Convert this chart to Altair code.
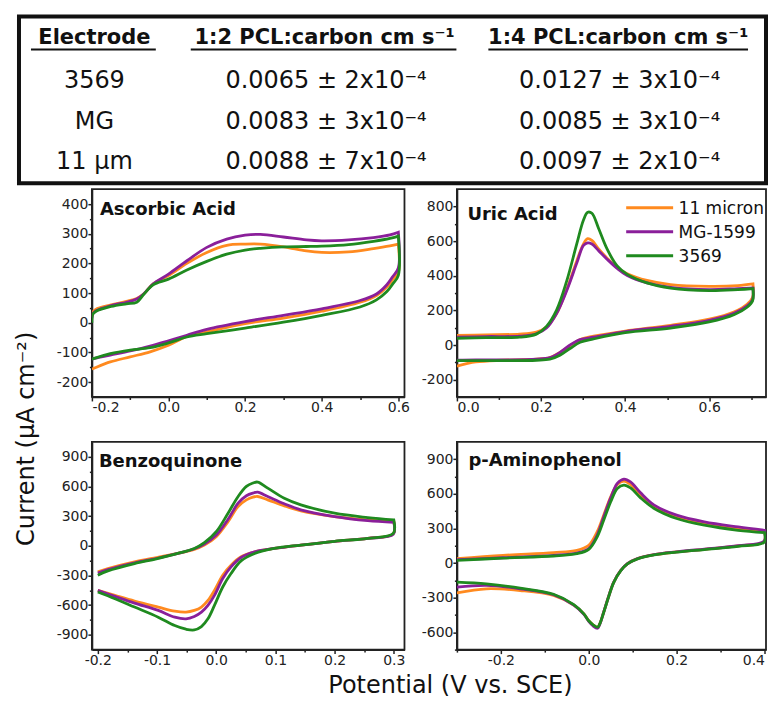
import altair as alt
import pandas as pd

FONT = "DejaVu Sans"
SERIES = ["11 micron", "MG-1599", "3569"]
COLORS = ["#FF8A1F", "#8A1F9A", "#1F8A1F"]

# ---------------- table ----------------
TABLE_HEAD = ["Electrode", "1:2 PCL:carbon  cm s\u207b\u00b9", "1:4 PCL:carbon cm s\u207b\u00b9"]
ELECTRODES = ["3569", "MG", "11 \u00b5m"]
K_12 = ["0.0065 \u00b1 2x10\u207b\u2074", "0.0083 \u00b1 3x10\u207b\u2074", "0.0088 \u00b1 7x10\u207b\u2074"]
K_14 = ["0.0127 \u00b1 3x10\u207b\u2074", "0.0085 \u00b1 3x10\u207b\u2074", "0.0097 \u00b1 2x10\u207b\u2074"]

# ---------------- Ascorbic acid ----------------
AA_E_FWD = [-0.2, -0.198, -0.19, -0.15, -0.11, -0.083, -0.065, -0.04, 0.0, 0.048, 0.1, 0.152,
            0.2, 0.24, 0.3, 0.36, 0.4, 0.47, 0.535, 0.578, 0.6]
AA_FWD = {
    "11 micron": [20, 35, 45, 60, 72, 82, 97, 131, 159, 200, 237, 261, 265, 265, 256, 242, 237, 239, 250, 259, 265],
    "MG-1599":   [15, 30, 40, 58, 69, 80, 97, 131, 164, 209, 254, 282, 295, 298, 289, 279, 276, 279, 287, 296, 305],
    "3569":      [0, 28, 38, 55, 64, 69, 95, 128, 147, 178, 207, 231, 245, 251, 256, 257, 258, 263, 274, 284, 292],
}
AA_E_REV = [0.6, 0.6, 0.585, 0.57, 0.543, 0.5, 0.4, 0.3, 0.2, 0.1, 0.048, 0.0, -0.048, -0.1, -0.152, -0.196, -0.2]
AA_REV = {
    "11 micron": [265, 170, 145, 120, 92, 69, 39, 16, -3, -31, -46, -76, -98, -115, -132, -154, -156],
    "MG-1599":   [305, 185, 155, 128, 97, 75, 47, 25, 4, -22, -42, -61, -79, -95, -109, -121, -123],
    "3569":      [292, 160, 130, 105, 77, 53, 25, 2, -18, -37, -48, -68, -84, -92, -104, -121, -123],
}

# ---------------- Uric acid ----------------
UA_E_FWD = [0.0, 0.069, 0.149, 0.189, 0.213, 0.237, 0.261, 0.285, 0.301, 0.311, 0.321, 0.337,
            0.357, 0.381, 0.405, 0.452, 0.508, 0.6, 0.668, 0.704]
UA_FWD = {
    "11 micron": [55, 59, 63, 75, 104, 182, 320, 486, 584, 614, 604, 555, 502, 447, 412, 373, 349, 339, 343, 353],
    "MG-1599":   [45, 49, 51, 65, 98, 182, 314, 473, 575, 590, 584, 545, 496, 443, 402, 359, 333, 320, 326, 329],
    "3569":      [39, 43, 45, 63, 108, 202, 369, 584, 722, 767, 761, 673, 555, 457, 408, 359, 329, 314, 320, 326],
}
UA_E_REV = [0.704, 0.703, 0.69, 0.66, 0.6, 0.508, 0.4, 0.325, 0.293, 0.269, 0.245, 0.221, 0.189, 0.109, 0.045, 0.0]
UA_REV = {
    "11 micron": [353, 275, 235, 192, 149, 114, 80, 51, 31, -4, -43, -73, -82, -88, -98, -122],
    "MG-1599":   [329, 262, 226, 184, 143, 108, 78, 45, 31, 0, -43, -73, -82, -86, -86, -88],
    "3569":      [326, 255, 218, 176, 133, 98, 71, 35, 16, -20, -59, -82, -88, -90, -90, -90],
}

# ---------------- Benzoquinone ----------------
BQ_E_FWD = [-0.2, -0.183, -0.138, -0.101, -0.065, -0.037, -0.02, 0.0, 0.02, 0.037, 0.051, 0.062,
            0.07, 0.087, 0.115, 0.143, 0.2, 0.256, 0.3]
BQ_FWD = {
    "11 micron": [-264, -231, -163, -119, -78, -37, 7, 92, 244, 397, 464, 492, 498, 464, 403, 353, 295, 261, 244],
    "MG-1599":   [-275, -241, -173, -129, -78, -31, 17, 108, 268, 430, 505, 532, 542, 498, 424, 363, 295, 254, 237],
    "3569":      [-298, -254, -180, -132, -78, -27, 31, 142, 329, 498, 600, 634, 644, 583, 481, 414, 329, 285, 261],
}
BQ_E_REV = [0.3, 0.299, 0.256, 0.2, 0.143, 0.098, 0.065, 0.042, 0.025, 0.011, -0.003, -0.014, -0.025,
            -0.037, -0.051, -0.07, -0.098, -0.138, -0.171, -0.2]
BQ_REV = {
    "11 micron": [244, 120, 75, 45, 7, -27, -61, -112, -197, -298, -451, -553, -620, -654, -671, -661, -620, -559, -502, -451],
    "MG-1599":   [237, 115, 75, 45, 7, -27, -61, -119, -214, -332, -502, -603, -671, -715, -739, -722, -654, -580, -512, -451],
    "3569":      [261, 125, 75, 45, 7, -27, -78, -153, -281, -417, -603, -739, -817, -851, -844, -807, -722, -620, -536, -468],
}

# ---------------- p-Aminophenol ----------------
PAP_E_FWD = [-0.3, -0.195, -0.08, -0.027, 0.0, 0.019, 0.034, 0.05, 0.065, 0.08, 0.095, 0.118,
             0.149, 0.2, 0.263, 0.34, 0.4]
PAP_FWD = {
    "11 micron": [38, 67, 90, 110, 154, 270, 415, 574, 681, 710, 681, 588, 487, 400, 342, 299, 275],
    "MG-1599":   [29, 46, 67, 87, 125, 241, 400, 565, 690, 728, 704, 609, 502, 415, 357, 313, 284],
    "3569":      [23, 43, 61, 81, 119, 226, 371, 531, 646, 676, 652, 565, 473, 386, 328, 284, 264],
}
PAP_E_REV = [0.4, 0.399, 0.34, 0.263, 0.2, 0.149, 0.111, 0.088, 0.073, 0.057, 0.046, 0.034, 0.025,
             0.02, 0.01, 0.0, -0.011, -0.034, -0.08, -0.156, -0.233, -0.3]
PAP_REV = {
    "11 micron": [275, 186, 148, 119, 96, 72, 38, -6, -64, -165, -281, -426, -528, -555, -535, -500, -441, -365, -281, -238, -223, -258],
    "MG-1599":   [284, 190, 150, 121, 97, 73, 38, -6, -64, -165, -281, -426, -532, -565, -545, -505, -445, -365, -275, -223, -194, -209],
    "3569":      [264, 180, 145, 117, 94, 70, 36, -8, -66, -167, -283, -428, -528, -555, -535, -500, -441, -360, -270, -217, -180, -165],
}


def cv_frame(e_fwd, fwd, e_rev, rev):
    rows = []
    for s in SERIES:
        es = list(e_fwd) + list(e_rev)
        vs = list(fwd[s]) + list(rev[s])
        for k, (e, v) in enumerate(zip(es, vs)):
            rows.append({"series": s, "E": e, "I": v, "k": k})
    return pd.DataFrame(rows)


ONE = pd.DataFrame({"a": [0]})


def make_axis(vals, major, fmt, right_after=None):
    test = f"abs(datum.value/{major} - round(datum.value/{major})) < 1e-6"
    kw = {}
    if right_after is not None:
        kw["labelAlign"] = {"condition": {"test": f"datum.value > {right_after}", "value": "right"}, "value": "center"}
    return alt.Axis(
        values=vals, title=None, grid=False,
        labelExpr=f"{test} ? replace(format(datum.value, '{fmt}'), '\u2212', '-') : ''",
        tickSize={"condition": {"test": test, "value": 4}, "value": 2.5},
        **kw,
    )


def panel(df, xdom, ydom, xvals, xmajor, yvals, ymajor, title, tx, ty, right_after=None):
    lines = alt.Chart(df).mark_line(strokeWidth=2.8, interpolate="catmull-rom", clip=True).encode(
        x=alt.X("E:Q", scale=alt.Scale(domain=xdom, nice=False, zero=False),
                axis=make_axis(xvals, xmajor, ".1f", right_after)),
        y=alt.Y("I:Q", scale=alt.Scale(domain=ydom, nice=False, zero=False), axis=make_axis(yvals, ymajor, "d")),
        color=alt.Color("series:N", scale=alt.Scale(domain=SERIES, range=COLORS), legend=None),
        order="k:Q",
    )
    ttl = alt.Chart(ONE).mark_text(
        text=title, font=FONT, fontSize=18, fontWeight="bold", align="left", baseline="alphabetic", color="#111"
    ).encode(x=alt.value(tx), y=alt.value(ty))
    return lines, ttl


W1, W2, H = 313, 309.5, 208

# -------- panel 1 + table + y title --------
aa = cv_frame(AA_E_FWD, AA_FWD, AA_E_REV, AA_REV)
l1, t1 = panel(aa, [-0.2, 0.616], [-250, 450], [round(-0.2 + 0.1 * i, 2) for i in range(9)], 0.2,
               list(range(-200, 401, 50)), 100, "Ascorbic Acid", 8, 26)

anchor_l = alt.Chart(ONE).mark_rect(opacity=0).encode(
    x=alt.value(-83), x2=alt.value(-82), y=alt.value(-180), y2=alt.value(-179))
anchor_r = alt.Chart(ONE).mark_rect(opacity=0).encode(
    x=alt.value(700), x2=alt.value(701), y=alt.value(0), y2=alt.value(1))
box = alt.Chart(ONE).mark_rect(filled=False, stroke="#111", strokeWidth=4).encode(
    x=alt.value(-73), x2=alt.value(675), y=alt.value(-173), y2=alt.value(-6))

table_layers = [anchor_l, anchor_r, box]
col_x = [2.5, 233, 527]
ul = [(-61, 64), (99, 365), (397, 657)]
for c in range(3):
    table_layers.append(alt.Chart(ONE).mark_text(
        text=TABLE_HEAD[c], font=FONT, fontSize=21, fontWeight="bold", align="center",
        baseline="alphabetic", color="#111").encode(x=alt.value(col_x[c]), y=alt.value(-145)))
    table_layers.append(alt.Chart(ONE).mark_rule(color="#111", strokeWidth=2).encode(
        x=alt.value(ul[c][0]), x2=alt.value(ul[c][1]), y=alt.value(-140)))
row_y = [-101, -60, -20]
for r in range(3):
    for c, txt in enumerate([ELECTRODES[r], K_12[r], K_14[r]]):
        table_layers.append(alt.Chart(ONE).mark_text(
            text=txt, font=FONT, fontSize=24, align="center", baseline="alphabetic", color="#111"
        ).encode(x=alt.value(col_x[c] + (0 if c == 0 else 1.5)), y=alt.value(row_y[r])))

ytitle = alt.Chart(ONE).mark_text(
    text="Current (\u03bcA cm\u207b\u00b2)", font=FONT, fontSize=24, angle=270, align="center",
    baseline="middle", color="#111").encode(x=alt.value(-65), y=alt.value(250))

p1 = alt.layer(*table_layers, ytitle, l1, t1).properties(width=W1, height=H)

# -------- panel 2 + legend --------
ua = cv_frame(UA_E_FWD, UA_FWD, UA_E_REV, UA_REV)
l2, t2 = panel(ua, [0, 0.735], [-300, 900], [round(0.1 * i, 2) for i in range(8)], 0.2,
               list(range(-200, 801, 100)), 200, "Uric Acid", 10.5, 31)
leg = []
for i, (s, col) in enumerate(zip(SERIES, COLORS)):
    yy = 18.5 + 24 * i
    leg.append(alt.Chart(ONE).mark_rule(color=col, strokeWidth=3).encode(
        x=alt.value(169.5), x2=alt.value(216.5), y=alt.value(yy)))
    leg.append(alt.Chart(ONE).mark_text(
        text=s, font=FONT, fontSize=17, align="left", baseline="middle", color="#111"
    ).encode(x=alt.value(222), y=alt.value(yy + 1)))
p2 = alt.layer(l2, t2, *leg).properties(width=W2, height=H)

# -------- panel 3 + x title --------
bq = cv_frame(BQ_E_FWD, BQ_FWD, BQ_E_REV, BQ_REV)
l3, t3 = panel(bq, [-0.21, 0.318], [-1050, 1050], [round(-0.2 + 0.05 * i, 3) for i in range(11)], 0.1,
               list(range(-900, 901, 150)), 300, "Benzoquinone", 7, 25)
xtitle = alt.Chart(ONE).mark_text(
    text="Potential (V vs. SCE)", font=FONT, fontSize=24, align="center", baseline="alphabetic",
    color="#111").encode(x=alt.value(359), y=alt.value(251))
p3 = alt.layer(l3, t3, xtitle).properties(width=W1, height=H)

# -------- panel 4 --------
pap = cv_frame(PAP_E_FWD, PAP_FWD, PAP_E_REV, PAP_REV)
l4, t4 = panel(pap, [-0.3, 0.4034], [-750, 1050], [round(-0.3 + 0.1 * i, 2) for i in range(8)], 0.2,
               list(range(-750, 901, 150)), 300, "p-Aminophenol", 11.5, 24, right_after=0.39)
p4 = alt.layer(l4, t4).properties(width=W2, height=H)

chart = alt.concat(
    p1, p2, p3, p4, columns=2, spacing={"row": 45, "column": 52.5}, bounds="flush"
).properties(
    padding={"left": 0, "top": 0, "right": -25, "bottom": 0}
).configure_axis(
    domainColor="#222", domainWidth=1.8, tickColor="#222", tickWidth=1.5,
    labelFont=FONT, labelFontSize=14, labelColor="#222", labelPadding=0,
).configure_view(stroke="#222", strokeWidth=1.8)

chart.save("out.html", embed_options={"renderer": "svg", "actions": False})
